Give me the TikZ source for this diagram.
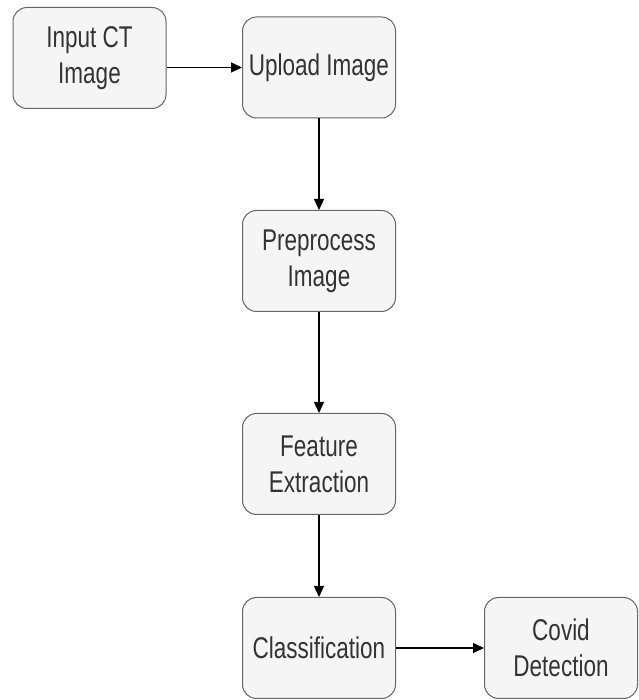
\documentclass[tikz,border=0pt]{standalone}
\usepackage{fontspec}
\setmainfont[FakeStretch=0.75]{Liberation Sans}
\usetikzlibrary{arrows.meta}
\definecolor{boxfill}{HTML}{F5F5F5}
\definecolor{boxline}{HTML}{666666}
\definecolor{boxtext}{HTML}{333333}
\begin{document}
\begin{tikzpicture}[x=1pt,y=1pt,
  stepbox/.style={draw=boxline, fill=boxfill, line width=1pt, rounded corners=14pt,
    minimum width=153pt, minimum height=101pt, inner sep=0pt, align=center,
    text=boxtext, font=\fontsize{30}{36}\selectfont},
  conn/.style={draw=black, line width=1.3pt, -{Triangle[length=11pt,width=10pt]}}]
\useasboundingbox (0,0) rectangle (638,700);
\node[stepbox] (in)  at (89.5,642) {Input CT\\Image};
\node[stepbox] (up)  at (319,632.5) {Upload Image};
\node[stepbox] (pre) at (319,439) {Preprocess\\Image};
\node[stepbox] (fe)  at (319,236) {Feature\\Extraction};
\node[stepbox] (cl)  at (319,52) {Classification};
\node[stepbox] (cov) at (561,52) {Covid\\Detection};
\draw[conn] (up.west -| in.east) -- (up.west);
\draw[conn] (up.south) -- (pre.north);
\draw[conn] (pre.south) -- (fe.north);
\draw[conn] (fe.south) -- (cl.north);
\draw[conn] (cl.east) -- (cov.west);
\end{tikzpicture}
\end{document}
